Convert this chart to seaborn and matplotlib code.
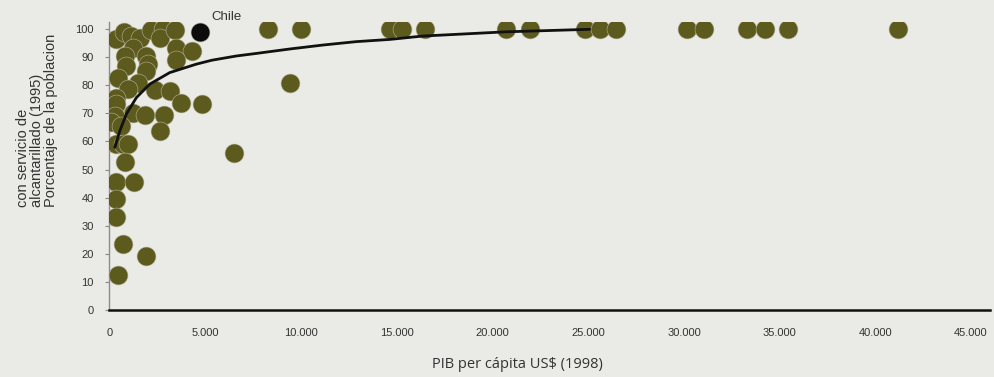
import numpy as np
import pandas as pd
import matplotlib
matplotlib.use("Agg")
import matplotlib.pyplot as plt
import seaborn as sns
from matplotlib.ticker import FuncFormatter

# GDP per capita (US$, 1998) and share of population with sewerage service (%, 1995)
pib = [313, 731, 1097, 1567, 2141, 2768, 2611, 3394, 1201, 783, 1880, 3446, 4282,
       3446, 836, 1984, 1880, 418, 1462, 940, 2350, 3133, 313, 3708, 4804, 313,
       1201, 1828, 2820, 261, 60, 574, 2611, 313, 678, 940, 9399, 6475, 783,
       313, 1253, 313, 313, 678, 1880, 418, 8251, 9974,
       14621, 15248, 16449, 20679, 21932, 24804, 25587, 26423,
       30183, 31070, 33316, 34256, 35457, 41201]
alcantarillado = [96.5, 98.9, 97.5, 96.8, 99.6, 100, 96.8, 99.6, 93.3, 90.4, 90.4, 93.3, 92.2,
                  89.0, 86.9, 87.6, 85.1, 82.6, 80.9, 78.7, 78.4, 78.0, 75.5, 73.8, 73.4, 73.4,
                  70.2, 69.5, 69.5, 69.1, 67.0, 65.6, 63.8, 59.2, 59.2, 59.2, 80.9, 55.7, 52.5,
                  45.4, 45.4, 39.4, 33.0, 23.4, 19.1, 12.4, 100, 100,
                  100, 100, 100, 100, 100, 100, 100, 100,
                  100, 100, 100, 100, 100, 100]

chile_pib = [4700]
chile_alc = [98.9]

# Trend line (logarithmic shape)
trend_pib = [245, 507, 851, 1373, 2073, 3117, 4507, 5318, 6595, 7624, 9399, 11123,
             12846, 14621, 16345, 20679, 25065]
trend_alc = [57.9, 63.8, 69.8, 75.6, 80.4, 84.5, 87.5, 88.9, 90.4, 91.3, 92.9, 94.3,
             95.5, 96.3, 97.5, 99.0, 99.9]

x_ticks = [0, 5000, 10000, 15000, 20000, 25000, 30000, 35000, 40000, 45000]
y_ticks = [0, 10, 20, 30, 40, 50, 60, 70, 80, 90, 100]

df = pd.DataFrame({"pib": pib, "alc": alcantarillado})
chile = pd.DataFrame({"pib": chile_pib, "alc": chile_alc})
trend = pd.DataFrame({"pib": trend_pib, "alc": trend_alc})

sns.set_theme(style="white")
bg = "#eaebe6"
sans = ["Liberation Sans", "DejaVu Sans"]

W, H = 994, 377
fig = plt.figure(figsize=(W / 100, H / 100), dpi=100, facecolor=bg)
ax = fig.add_axes([109 / W, (H - 310) / H, (990 - 109) / W, (310 - 22) / H])
ax.set_facecolor(bg)

sns.scatterplot(data=df, x="pib", y="alc", ax=ax, s=185, color="#5d5a1e",
                edgecolor="#b5b39c", linewidth=0.4, zorder=3, legend=False)
sns.scatterplot(data=chile, x="pib", y="alc", ax=ax, s=185, color="#0c0c0c",
                edgecolor="#b5b39c", linewidth=0.4, zorder=3, legend=False)
sns.lineplot(data=trend, x="pib", y="alc", ax=ax, sort=False, color="#111111",
             linewidth=2.0, zorder=4, estimator=None)

ax.annotate("Chile", xy=(chile_pib[0], chile_alc[0]), xytext=(8, 11),
            textcoords="offset points", fontsize=9.5, family=sans,
            color="#333333", ha="left", va="center")

ax.set_xlim(-60, 46000)
ax.set_ylim(0, 102.5)
ax.set_xticks(x_ticks)
ax.set_yticks(y_ticks)
ax.xaxis.set_major_formatter(FuncFormatter(lambda v, p: f"{int(v):,}".replace(",", ".")))
for lbl in ax.get_xticklabels() + ax.get_yticklabels():
    lbl.set_family(sans)
    lbl.set_fontsize(8)
    lbl.set_color("#333333")
ax.tick_params(axis="x", length=0, pad=13)
ax.tick_params(axis="y", length=3, width=0.8, color="#888888", pad=8, left=True)

for side in ["top", "right"]:
    ax.spines[side].set_visible(False)
ax.spines["bottom"].set_color("#111111")
ax.spines["bottom"].set_linewidth(1.8)
ax.spines["left"].set_color("#8a8c90")
ax.spines["left"].set_linewidth(1.0)

ax.set_xlabel("")
ax.set_ylabel("")
fig.text(517 / W, 1 - 364 / H, "PIB per cápita US$ (1998)", ha="center", va="center",
         fontsize=10.5, family=["Open Sans", "DejaVu Sans"], color="#333333")
fig.text(37 / W, 1 - 207 / H,
         "con servicio de\nalcantarillado (1995)\nPorcentaje de la poblacion",
         rotation=90, ha="center", va="bottom", multialignment="left",
         fontsize=10.5, family=sans, color="#333333", linespacing=1.0)

fig.savefig("out.png", dpi=100, facecolor=bg)
